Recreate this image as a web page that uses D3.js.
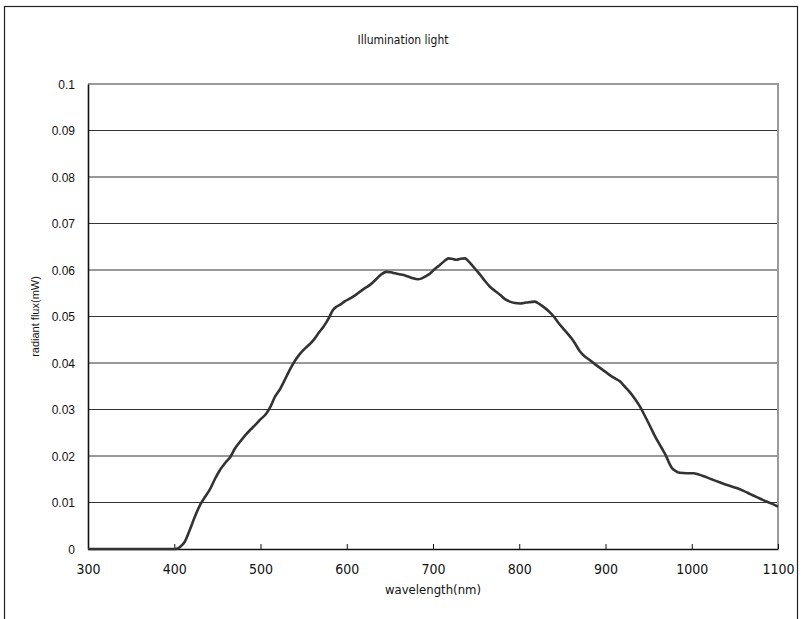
<!DOCTYPE html>
<html><head><meta charset="utf-8">
<script src="https://cdn.jsdelivr.net/npm/d3@7/dist/d3.min.js"></script>
<style>
html,body{margin:0;padding:0;background:#fff;}
svg{display:block;}
</style></head>
<body>
<svg id="chart" width="807" height="619"></svg>
<script>
const titleText = "Illumination light";
const xLabel = "wavelength(nm)";
const yLabel = "radiant flux(mW)";
const xTicks = [300, 400, 500, 600, 700, 800, 900, 1000, 1100];
const yTicks = [0, 0.01, 0.02, 0.03, 0.04, 0.05, 0.06, 0.07, 0.08, 0.09, 0.1];
const yTickLabels = ["0", "0.01", "0.02", "0.03", "0.04", "0.05", "0.06", "0.07", "0.08", "0.09", "0.1"];

const wavelength = [300,350,400,404,407,412,418,424,430,436,441,447,453,459,465,470,476,482,488,494,499,507,512,517,523,528,533,538,545,552,558,563,568,573,579,584,588,592,598,604,610,615,621,627,633,639,646,651,656,661,666,671,677,682,687,692,697,702,708,713,718,722,727,732,737,741,745,750,755,760,766,772,778,783,789,795,801,808,813,818,824,830,835,840,846,851,857,863,870,876,882,888,894,900,905,911,917,922,928,934,940,946,952,957,963,967,971,974,977,981,986,994,1002,1008,1013,1023,1033,1042,1052,1060,1068,1076,1083,1092,1100];
const flux = [0,0,0,0.0001,0.0005,0.0015,0.0041,0.007,0.0095,0.0113,0.0127,0.0150,0.0170,0.0185,0.0198,0.0215,0.0230,0.0244,0.0256,0.0267,0.0277,0.0292,0.0308,0.0328,0.0345,0.0363,0.0382,0.0399,0.0418,0.0432,0.0442,0.0453,0.0466,0.0478,0.0496,0.0514,0.0521,0.0525,0.0533,0.0539,0.0546,0.0553,0.0561,0.0568,0.0578,0.0589,0.0596,0.0595,0.0593,0.0591,0.0589,0.0586,0.0582,0.0580,0.0582,0.0587,0.0593,0.0602,0.0611,0.0619,0.0625,0.0624,0.0622,0.0624,0.0625,0.0619,0.0611,0.0600,0.0589,0.0577,0.0564,0.0555,0.0546,0.0538,0.0532,0.0529,0.0528,0.0530,0.0531,0.0532,0.0526,0.0518,0.0510,0.0500,0.0485,0.0474,0.0461,0.0447,0.0426,0.0414,0.0406,0.0397,0.0389,0.0381,0.0374,0.0367,0.0360,0.0350,0.0338,0.0323,0.0306,0.0285,0.0263,0.0244,0.0224,0.0211,0.0197,0.0184,0.0174,0.0168,0.0164,0.0163,0.0163,0.0160,0.0157,0.0150,0.0143,0.0137,0.0131,0.0125,0.0118,0.0111,0.0105,0.0098,0.0091];

const svg = d3.select("#chart");
const L = 88, R = 778, T = 84, B = 549;
const x = d3.scaleLinear().domain([300, 1100]).range([L, R]);
const y = d3.scaleLinear().domain([0, 0.1]).range([B, T]);

// outer frame
svg.append("rect").attr("x", 4.5).attr("y", 6.5).attr("width", 793).attr("height", 640)
  .attr("fill", "none").attr("stroke", "#222").attr("stroke-width", 1.2);

// title
svg.append("text").attr("x", 403).attr("y", 44).attr("text-anchor", "middle")
  .attr("font-family", "'Liberation Sans Narrow','DejaVu Sans Condensed',sans-serif")
  .attr("font-size", 12).attr("fill", "#111").text(titleText);

// grid lines
svg.append("g").selectAll("line").data(yTicks.filter(d => d > 0 && d < 0.1)).join("line")
  .attr("x1", L).attr("x2", R).attr("y1", d => y(d)).attr("y2", d => y(d))
  .attr("stroke", "#333").attr("stroke-width", 1);

// top & right border (gray)
svg.append("path").attr("d", `M${L},${T}H${R}V${B}`).attr("fill", "none")
  .attr("stroke", "#9a9a9a").attr("stroke-width", 2);

// x axis
const xAxis = d3.axisBottom(x).tickValues(xTicks).tickSize(-5).tickSizeOuter(0).tickFormat(d3.format("d"));
const gx = svg.append("g").attr("transform", `translate(0,${B})`).call(xAxis);
gx.select(".domain").attr("stroke", "#111").attr("stroke-width", 1.6);
gx.selectAll(".tick line").attr("stroke", "#111");
gx.selectAll(".tick text").attr("dy", 0).attr("y", 25)
  .attr("font-family", "'Liberation Sans Narrow','DejaVu Sans Condensed',sans-serif")
  .attr("font-size", 14).attr("fill", "#111");

// y axis
const yAxis = d3.axisLeft(y).tickValues(yTicks).tickSize(0).tickSizeOuter(0)
  .tickFormat((d, i) => yTickLabels[i]);
const gy = svg.append("g").attr("transform", `translate(${L},0)`).call(yAxis);
gy.select(".domain").attr("stroke", "#111").attr("stroke-width", 1.6);
gy.selectAll(".tick text").attr("x", -13).attr("dy", "0.35em")
  .attr("font-family", "'Liberation Sans',Arial,sans-serif")
  .attr("font-size", 12).attr("fill", "#111");

// axis labels
svg.append("text").attr("x", 433).attr("y", 594).attr("text-anchor", "middle")
  .attr("font-family", "'Liberation Sans Narrow','DejaVu Sans Condensed',sans-serif")
  .attr("font-size", 13).attr("fill", "#111").text(xLabel);
svg.append("text").attr("transform", `translate(39,${(T + B) / 2}) rotate(-90)`)
  .attr("text-anchor", "middle")
  .attr("font-family", "'Liberation Sans',Arial,sans-serif")
  .attr("font-size", 11).attr("fill", "#111").text(yLabel);

// curve
const pts = wavelength.map((w, i) => [w, flux[i]]);
svg.append("path").datum(pts)
  .attr("d", d3.line().x(d => x(d[0])).y(d => y(d[1])).curve(d3.curveMonotoneX))
  .attr("fill", "none").attr("stroke", "#333").attr("stroke-width", 2.6)
  .attr("stroke-linejoin", "round");
</script>
</body></html>
